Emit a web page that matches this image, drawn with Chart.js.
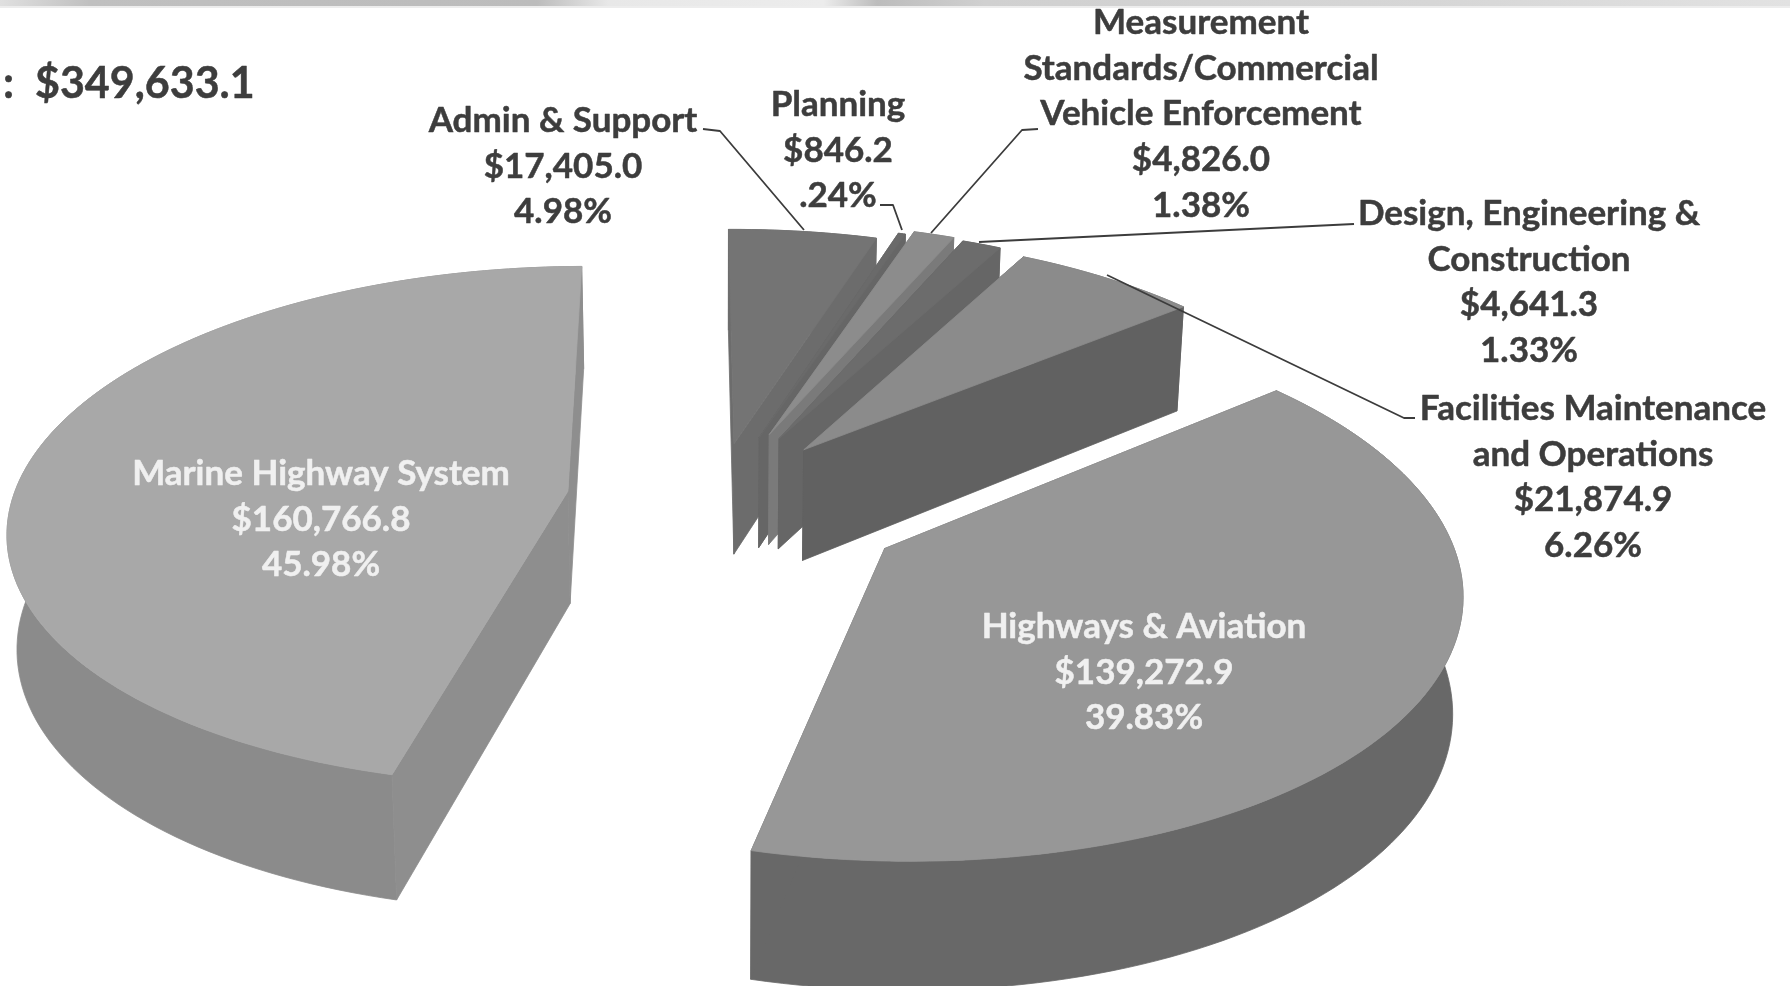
<!DOCTYPE html>
<html><head><meta charset="utf-8">
<style>html,body{margin:0;padding:0;background:#fff}#w{width:1790px;height:986px}</style>
<script src="https://cdn.jsdelivr.net/npm/chart.js@4"></script>
</head><body><div id="w"><canvas id="c" width="1790" height="986"></canvas></div>
<script>
const categories = ["Admin & Support","Planning","Measurement Standards/Commercial Vehicle Enforcement","Design, Engineering & Construction","Facilities Maintenance and Operations","Highways & Aviation","Marine Highway System"];
const values = [17405.0,846.2,4826.0,4641.3,21874.9,139272.9,160766.8];
const percentLabels = ["4.98%",".24%","1.38%","1.33%","6.26%","39.83%","45.98%"];
const totalLabel = ":  $349,633.1";
const explode = [125,145,155,150,142,195,150];
const topColors = ["#747474","#6a6a6a","#8c8c8c","#6c6c6c","#8b8b8b","#979797","#a8a8a8"];
const arcWallColors = ["#6c6c6c","#666666","#808080","#666666","#6a6a6a","#686868","#8b8b8b"];
const radialWallColors = ["#6c6c6c","#666666","#7a7a7a","#666666","#616161","#686868","#8e8e8e"];

// camera of the tilted plane
const cam = {ppx:722, ppy:502, tilt:0.463, persp:0.00024, R:556, cx:-6, cy:-6, conv:0.986};
function proj(X,Y,low){
  const w = 1 - cam.persp*Y;
  let x = cam.ppx + X/w, y = cam.ppy + cam.tilt*Y/w;
  if(low){ x = cam.ppx + (x-cam.ppx)*cam.conv; y += 26 + 87/w; }
  return [x,y];
}
function poly(ctx,pts,col){
  ctx.beginPath(); pts.forEach((p,i)=> i?ctx.lineTo(p[0],p[1]):ctx.moveTo(p[0],p[1]));
  ctx.closePath(); ctx.fillStyle=col; ctx.strokeStyle=col; ctx.lineWidth=0.8; ctx.fill(); ctx.stroke();
}
const pie3d = {
  id:'pie3d',
  beforeDatasetsDraw(chart){
    const ctx = chart.ctx, els = chart.getDatasetMeta(0).data;
    ctx.save();
    els.forEach((el,i)=>{
      const mid=(el.startAngle+el.endAngle)/2, off=el.options.offset;
      const ox=cam.cx+off*Math.cos(mid), oy=cam.cy+off*Math.sin(mid);
      const n=Math.max(4,Math.ceil((el.endAngle-el.startAngle)*40));
      const arc=[];
      for(let k=0;k<=n;k++){const a=el.startAngle+(el.endAngle-el.startAngle)*k/n;arc.push([ox+cam.R*Math.cos(a),oy+cam.R*Math.sin(a)]);}
      const T=p=>proj(p[0],p[1],false), B=p=>proj(p[0],p[1],true), c=[ox,oy];
      poly(ctx,arc.map(T).concat(arc.map(B).reverse()),arcWallColors[i]);
      poly(ctx,[T(c),T(arc[0]),B(arc[0]),B(c)],radialWallColors[i]);
      poly(ctx,[T(c),T(arc[n]),B(arc[n]),B(c)],radialWallColors[i]);
      poly(ctx,[T(c)].concat(arc.map(T)),el.options.backgroundColor);
    });
    ctx.restore();
    return false;
  },
  afterDraw(chart){
    const ctx=chart.ctx;
    ctx.save();
    // scanned strip on the top edge
    const g=ctx.createLinearGradient(0,0,1790,0);
    [[0,'#e0e0e0'],[.05,'#c0c0c0'],[.3,'#bcbcbc'],[.34,'#e8e8e8'],[.46,'#ececec'],[.49,'#bcbcbc'],[.55,'#d0d0d0'],[.8,'#d6d6d6'],[1,'#e2e2e2']].forEach(s=>g.addColorStop(s[0],s[1]));
    ctx.fillStyle=g; ctx.fillRect(0,0,1790,6);
    ctx.fillStyle='rgba(210,210,210,.4)'; ctx.fillRect(0,6,1790,2);
    // leader lines
    ctx.strokeStyle='#3c3c3c'; ctx.lineWidth=1.8; ctx.lineJoin='round';
    leaders.forEach(l=>{ctx.beginPath();l.forEach((p,i)=>i?ctx.lineTo(p[0],p[1]):ctx.moveTo(p[0],p[1]));ctx.stroke();});
    // labels
    ctx.textAlign='center'; ctx.textBaseline='middle';
    ctx.font='bold '+FS+'px Lato';
    labelLayout.forEach((L,i)=>{
      const col=L.color||'#3d3d3d';
      ctx.fillStyle=col; ctx.strokeStyle=col; ctx.lineWidth=.5;
      const money='$'+values[i].toLocaleString('en-US',{minimumFractionDigits:1,maximumFractionDigits:1});
      const lines=L.lines.concat([money,percentLabels[i]]);
      lines.forEach((t,k)=>{ctx.fillText(t,L.x,L.y+k*45.6);ctx.strokeText(t,L.x,L.y+k*45.6);});
    });
    ctx.fillStyle='#3d3d3d'; ctx.strokeStyle='#3d3d3d'; ctx.textAlign='left'; ctx.font='bold 43px Lato';
    ctx.fillText(totalLabel,3,84); ctx.strokeText(totalLabel,3,84);
    ctx.restore();
  }
};
const FS=35;
const leaders=[
 [[703,129],[720,131],[804,230]],
 [[880,205],[893,205],[902,230]],
 [[1038,129],[1022,130],[931,233]],
 [[1354,224],[979,242]],
 [[1415,418],[1404,418],[1107,275]]
];
const labelLayout=[
 {x:563,y:121,lines:["Admin & Support"]},
 {x:838,y:105,lines:["Planning"]},
 {x:1201,y:23,lines:["Measurement","Standards/Commercial","Vehicle Enforcement"]},
 {x:1529,y:214,lines:["Design, Engineering &","Construction"]},
 {x:1593,y:409,lines:["Facilities Maintenance","and Operations"]},
 {x:1144,y:627,lines:["Highways & Aviation"],color:'#f0f0f0'},
 {x:321,y:474,lines:["Marine Highway System"],color:'#f0f0f0'}
];
new Chart(document.getElementById('c'),{
  type:'pie',
  data:{labels:categories,datasets:[{data:values,backgroundColor:topColors,offset:explode,borderWidth:0}]},
  options:{responsive:false,animation:false,rotation:-0.5,layout:{padding:0},plugins:{legend:{display:false},tooltip:{enabled:false}}},
  plugins:[pie3d]
});
</script></body></html>
